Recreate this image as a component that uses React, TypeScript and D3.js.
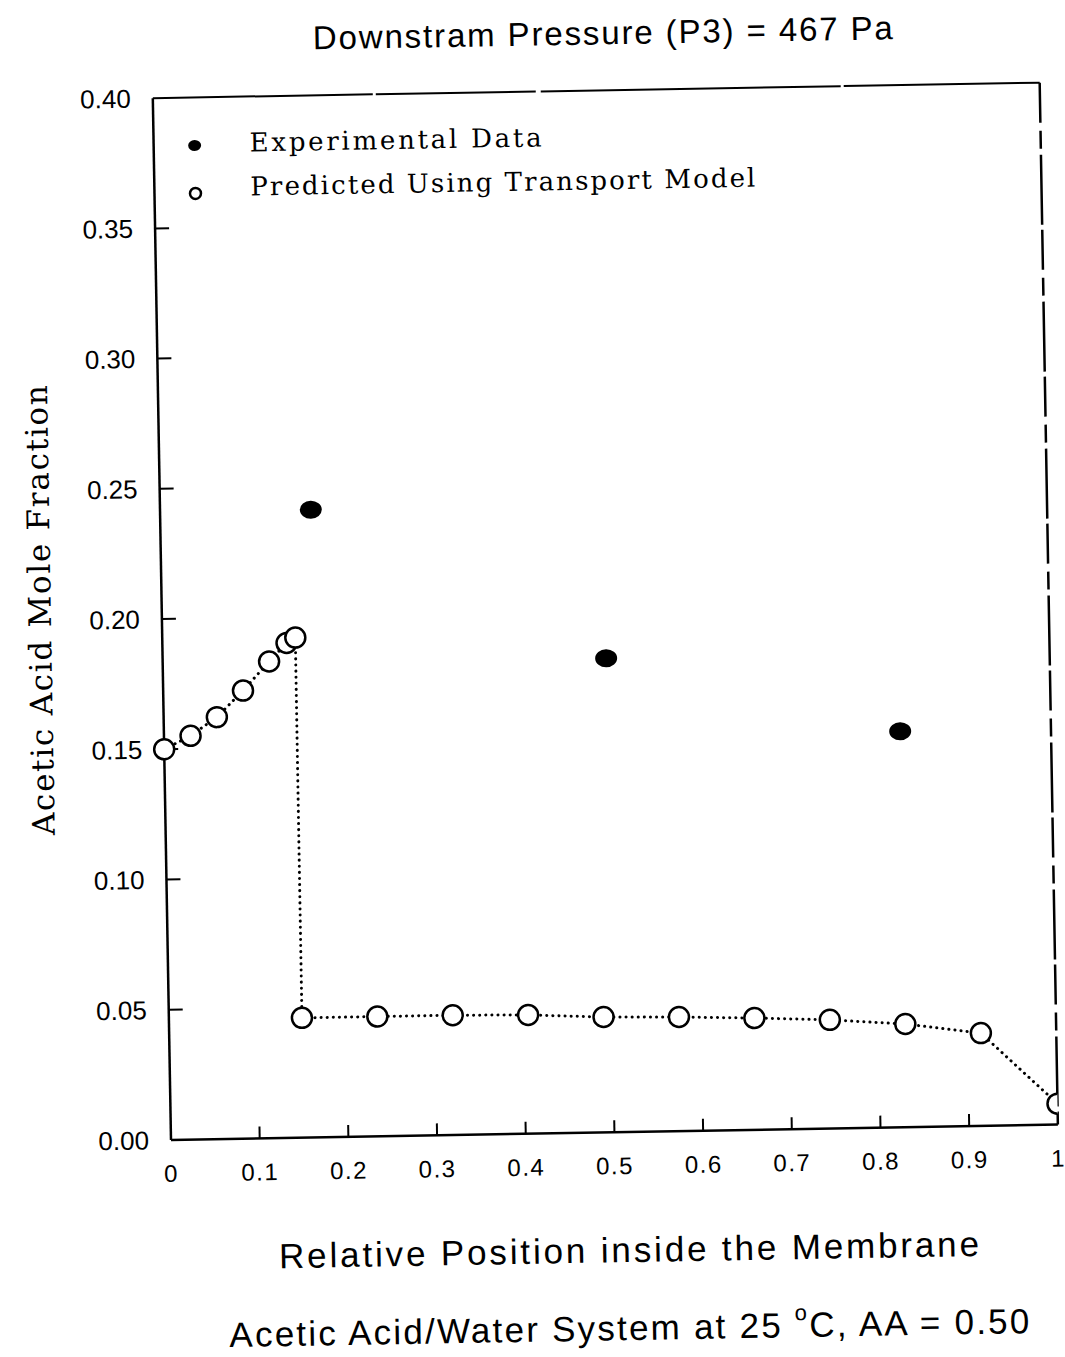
import * as d3 from 'd3';

// x axis
const xTickValues = [0, 0.1, 0.2, 0.3, 0.4, 0.5, 0.6, 0.7, 0.8, 0.9, 1];
const xTickLabels = ['0', '0.1', '0.2', '0.3', '0.4', '0.5', '0.6', '0.7', '0.8', '0.9', '1'];
// y axis
const yTickValues = [0, 0.05, 0.1, 0.15, 0.2, 0.25, 0.3, 0.35, 0.4];
const yTickLabels = ['0.00', '0.05', '0.10', '0.15', '0.20', '0.25', '0.30', '0.35', '0.40'];

// filled dots
const experimentalX = [0.17, 0.5, 0.83];
const experimentalY = [0.241, 0.182, 0.152];

// open circles joined by the dotted line (drop at 0.15)
const predictedX = [0, 0.03, 0.06, 0.09, 0.12, 0.14, 0.15, 0.15, 0.235, 0.32, 0.405, 0.49, 0.575, 0.66, 0.745, 0.83, 0.915, 1.0];
const predictedY = [0.15, 0.155, 0.162, 0.172, 0.183, 0.19, 0.192, 0.046, 0.046, 0.046, 0.0456, 0.0443, 0.0438, 0.0429, 0.0417, 0.0396, 0.0356, 0.008];

const legendLabels = ['Experimental Data', 'Predicted Using Transport Model'];

const sans = '"Liberation Sans", Arial, sans-serif';
const serif = '"DejaVu Serif", serif';

export default function App() {
  const x = d3.scaleLinear().domain([0, 1]).range([171, 1058]);
  const y = d3.scaleLinear().domain([0, 0.4]).range([1140, 98]);

  const predicted = predictedX.map((v, i) => [v, predictedY[i]] as [number, number]);
  const line = d3.line<[number, number]>().x(d => x(d[0])).y(d => y(d[1]));

  const x0 = x(0);
  const y0 = y(0);

  return (
    <svg width={1065} height={1357} style={{ position: 'absolute', left: 0, top: 0, background: '#fff' }}>
      <defs>
        <clipPath id="plotClip">
          <rect x={x0 - 40} y={y(0.4) - 10} width={x(1) - x0 + 40} height={y0 - y(0.4) + 40} />
        </clipPath>
      </defs>
      {/* the scan is tilted about one degree */}
      <g transform={`rotate(-1 ${x0} ${y0})`} fill="#000">
        <text x={622} y={52} fontFamily={sans} fontSize={33} textAnchor="middle" textLength={580}>
          Downstram Pressure (P3) = 467 Pa
        </text>

        {/* frame */}
        <line x1={x0} y1={y(0.4)} x2={x0} y2={y0} stroke="#000" strokeWidth={2.5} />
        <line x1={x0} y1={y0} x2={x(1)} y2={y0} stroke="#000" strokeWidth={2.5} />
        <line x1={x0} y1={y(0.4)} x2={x(1)} y2={y(0.4)} stroke="#000" strokeWidth={2} strokeDasharray="220 3 160 5 300 3" />
        <line x1={x(1)} y1={y(0.4)} x2={x(1)} y2={y0} stroke="#000" strokeWidth={2.5} strokeDasharray="40 8 18 6 70 5" />

        {/* y ticks */}
        {yTickValues.map((v, i) => (
          <g key={'y' + i}>
            {v > 0 && v < 0.4 && (
              <line x1={x0} x2={x0 + 14} y1={y(v)} y2={y(v)} stroke="#000" strokeWidth={2} />
            )}
            <text x={x0 - 22} y={y(v)} dy="0.35em" textAnchor="end" fontFamily={sans} fontSize={26}>
              {yTickLabels[i]}
            </text>
          </g>
        ))}

        {/* x ticks */}
        {xTickValues.map((v, i) => (
          <g key={'x' + i}>
            {v > 0 && v < 1 && (
              <line x1={x(v)} x2={x(v)} y1={y0} y2={y0 - 12} stroke="#000" strokeWidth={2} />
            )}
            <text x={x(v)} y={y0 + 42} textAnchor="middle" fontFamily={sans} fontSize={24} letterSpacing={1.5}>
              {xTickLabels[i]}
            </text>
          </g>
        ))}

        {/* predicted */}
        <path
          d={line(predicted) || ''}
          fill="none"
          stroke="#000"
          strokeWidth={3}
          strokeLinecap="round"
          strokeDasharray="0.1 6"
        />
        <g clipPath="url(#plotClip)">
          {predicted.map((d, i) => (
            <circle key={'p' + i} cx={x(d[0])} cy={y(d[1])} r={10} fill="#fff" stroke="#000" strokeWidth={2.5} />
          ))}
        </g>

        {/* experimental */}
        {experimentalX.map((v, i) => (
          <ellipse key={'e' + i} cx={x(v)} cy={y(experimentalY[i])} rx={11} ry={9} fill="#000" />
        ))}

        {/* legend */}
        <ellipse cx={212} cy={146} rx={6.5} ry={5.5} fill="#000" />
        <text x={267} y={153} fontFamily={serif} fontSize={26} textLength={292}>{legendLabels[0]}</text>
        <circle cx={212} cy={194} r={5.5} fill="#fff" stroke="#000" strokeWidth={2.5} />
        <text x={267} y={197} fontFamily={serif} fontSize={26} textLength={505}>{legendLabels[1]}</text>

        {/* axis titles */}
        <text transform="translate(60,608) rotate(-90)" textAnchor="middle" fontFamily={serif} fontSize={31} textLength={450}>
          Acetic Acid Mole Fraction
        </text>
        <text x={627} y={1270} textAnchor="middle" fontFamily={sans} fontSize={35} textLength={700}>
          Relative Position inside the Membrane
        </text>
        <text x={626} y={1348} textAnchor="middle" fontFamily={sans} fontSize={35} textLength={800}>
          Acetic Acid/Water System at 25 <tspan dy={-17} fontSize={22}>o</tspan><tspan dy={17}>C, AA = 0.50</tspan>
        </text>
      </g>
    </svg>
  );
}
